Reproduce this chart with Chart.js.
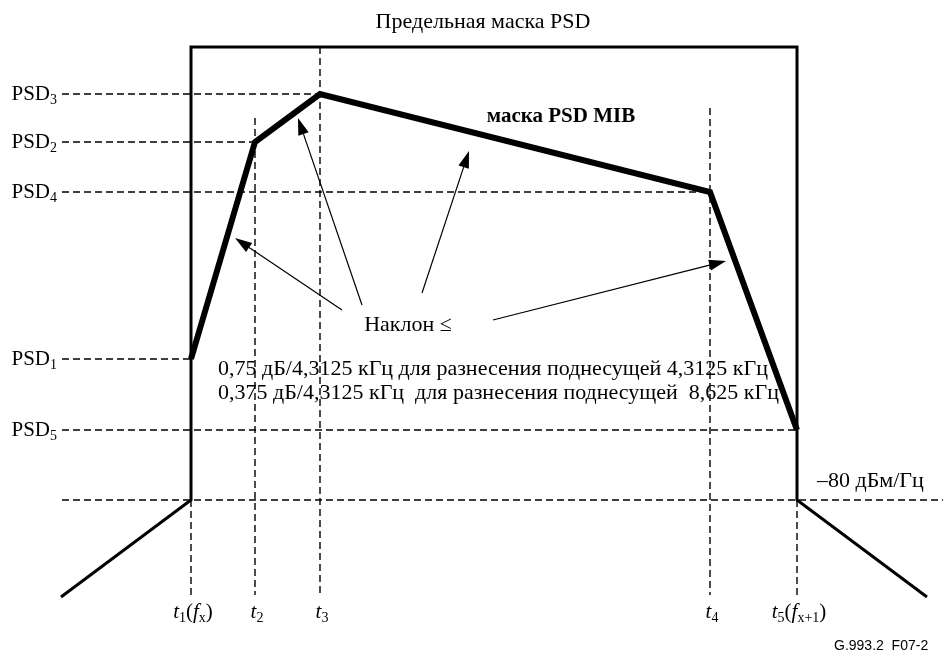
<!DOCTYPE html>
<html>
<head>
<meta charset="utf-8">
<script src="https://cdn.jsdelivr.net/npm/chart.js@4.4.0/dist/chart.umd.min.js"></script>
<style>
  html, body { margin: 0; padding: 0; background: #fff; }
  #wrap { width: 943px; height: 655px; position: relative; }
</style>
</head>
<body>
<div id="wrap"><canvas id="psdChart"></canvas></div>
<script>
// breakpoints along the frequency axis (diagram units)
const toneX = [191, 255, 320, 710, 797];
const toneLabels = [
    [['t', 'i'], ['1', 's'], ['(', ''], ['f', 'i'], ['x', 's'], [')', '']],
    [['t', 'i'], ['2', 's']],
    [['t', 'i'], ['3', 's']],
    [['t', 'i'], ['4', 's']],
    [['t', 'i'], ['5', 's'], ['(', ''], ['f', 'i'], ['x+1', 's'], [')', '']]
];
// PSD levels (diagram units, downward) for PSD1..PSD5, one per breakpoint
const psdLevels = [359, 142, 94, 192, 430];
const psdNames = ['1', '2', '3', '4', '5'];
const floorLevel = 500;   // -80 dBm/Hz
const limitLevel = 47;    // top of the limit PSD mask
const outerX = [61, 927];
const outerLevel = 597;
const guideTop = [500, 118, 47, 108, 500];

// slope arrows: tail -> head
const arrowFrom = [[342, 310], [362, 305], [422, 293], [493, 320]];
const arrowTo = [[235, 238], [298, 118], [469, 151], [726, 261]];

const LEFT_DASH = 62;
const BOTTOM_DASH = 595;
const SERIF = '"Liberation Serif", "Times New Roman", serif';

function seg(points, width, dash) {
    return {
        data: points,
        showLine: true,
        borderColor: '#000',
        borderWidth: width,
        borderDash: dash || [],
        borderCapStyle: 'butt',
        borderJoinStyle: 'miter',
        pointRadius: 0,
        fill: false,
        tension: 0
    };
}

const datasets = [];

// dashed guides for PSD levels
psdLevels.forEach((lvl, i) => {
    datasets.push(seg([{x: LEFT_DASH, y: lvl}, {x: toneX[i], y: lvl}], 1.4, [7, 4]));
});
datasets.push(seg([{x: LEFT_DASH, y: floorLevel}, {x: 943, y: floorLevel}], 1.4, [7, 4]));

// dashed guides for breakpoints
toneX.forEach((x, i) => {
    datasets.push(seg([{x: x, y: guideTop[i]}, {x: x, y: BOTTOM_DASH}], 1.4, [7, 4]));
});

// limit PSD mask
datasets.push(seg([
    {x: outerX[0], y: outerLevel},
    {x: toneX[0], y: floorLevel},
    {x: toneX[0], y: limitLevel},
    {x: toneX[4], y: limitLevel},
    {x: toneX[4], y: floorLevel},
    {x: outerX[1], y: outerLevel}
], 3));

// MIB PSD mask
datasets.push(seg(toneX.map((x, i) => ({x: x, y: psdLevels[i]})), 6));

function drawRich(ctx, parts, x, y, size, align) {
    const subSize = Math.round(size * 0.65);
    const fontFor = p => {
        if (p[1] === 's') return subSize + 'px ' + SERIF;
        if (p[1] === 'i') return 'italic ' + size + 'px ' + SERIF;
        return size + 'px ' + SERIF;
    };
    let total = 0;
    parts.forEach(p => { ctx.font = fontFor(p); total += ctx.measureText(p[0]).width; });
    let cx = align === 'right' ? x - total : align === 'center' ? x - total / 2 : x;
    parts.forEach(p => {
        ctx.font = fontFor(p);
        ctx.fillText(p[0], cx, p[1] === 's' ? y + size * 0.3 : y);
        cx += ctx.measureText(p[0]).width;
    });
}

const annotations = {
    id: 'annotations',
    afterDatasetsDraw(chart) {
        const ctx = chart.ctx;
        const sx = v => chart.scales.x.getPixelForValue(v);
        const sy = v => chart.scales.y.getPixelForValue(v);
        ctx.save();
        ctx.fillStyle = '#000';
        ctx.strokeStyle = '#000';
        ctx.textBaseline = 'middle';

        // arrows
        arrowFrom.forEach((a, i) => {
            const x1 = sx(a[0]), y1 = sy(a[1]);
            const x2 = sx(arrowTo[i][0]), y2 = sy(arrowTo[i][1]);
            const ang = Math.atan2(y2 - y1, x2 - x1);
            const len = 17, half = 5.5;
            const bx = x2 - len * Math.cos(ang), by = y2 - len * Math.sin(ang);
            ctx.lineWidth = 1.2;
            ctx.beginPath();
            ctx.moveTo(x1, y1);
            ctx.lineTo(bx, by);
            ctx.stroke();
            ctx.beginPath();
            ctx.moveTo(x2, y2);
            ctx.lineTo(bx + half * Math.sin(ang), by - half * Math.cos(ang));
            ctx.lineTo(bx - half * Math.sin(ang), by + half * Math.cos(ang));
            ctx.closePath();
            ctx.fill();
        });

        // PSD level labels
        psdLevels.forEach((lvl, i) => {
            drawRich(ctx, [['PSD', ''], [psdNames[i], 's']], sx(57), sy(lvl), 21, 'right');
        });

        // breakpoint labels
        toneLabels.forEach((parts, i) => {
            drawRich(ctx, parts, sx(toneX[i]) + 2, sy(612), 21, 'center');
        });

        ctx.font = '22px ' + SERIF;
        ctx.textAlign = 'center';
        ctx.fillText('Предельная маска PSD', sx(483), sy(22));
        ctx.font = 'bold 21px ' + SERIF;
        ctx.fillText('маска PSD MIB', sx(561), sy(117));
        ctx.font = '22px ' + SERIF;
        ctx.fillText('Наклон ≤', sx(408), sy(325));
        ctx.textAlign = 'left';
        ctx.textBaseline = 'alphabetic';
        ctx.fillText('0,75 дБ/4,3125 кГц для разнесения поднесущей 4,3125 кГц', sx(218), sy(375));
        ctx.fillText('0,375 дБ/4,3125 кГц  для разнесения поднесущей  8,625 кГц', sx(218), sy(399));
        ctx.textBaseline = 'middle';
        ctx.fillText('–80 дБм/Гц', sx(817), sy(481));
        ctx.font = '14px "Liberation Sans", Arial, sans-serif';
        ctx.fillText('G.993.2  F07-2', sx(834), sy(646));
        ctx.restore();
    }
};

new Chart(document.getElementById('psdChart'), {
    type: 'scatter',
    data: { datasets: datasets },
    options: {
        responsive: true,
        maintainAspectRatio: false,
        animation: false,
        layout: { padding: 0 },
        scales: {
            x: { type: 'linear', min: 0, max: 943, display: false },
            y: { type: 'linear', min: 0, max: 655, reverse: true, display: false }
        },
        plugins: {
            legend: { display: false },
            tooltip: { enabled: false }
        }
    },
    plugins: [annotations]
});
</script>
</body>
</html>
